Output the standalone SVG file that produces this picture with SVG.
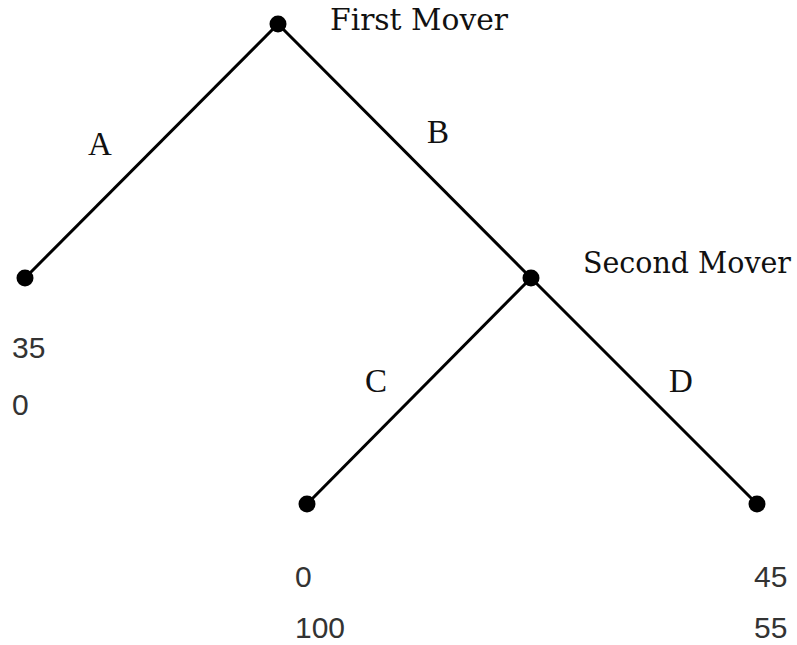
<svg xmlns="http://www.w3.org/2000/svg" width="797" height="645" viewBox="0 0 797 645">
<style>
.edge{stroke:#000;stroke-width:3;fill:none}
.dot{fill:#000}
.lbl{font-family:"Liberation Serif","DejaVu Serif",serif;font-size:33px;fill:#111}
.who{font-family:"DejaVu Serif","Liberation Serif",serif;font-size:29px;fill:#111}
.pay{font-family:"Liberation Sans","Arial",sans-serif;font-size:30px;fill:#333}
</style>
<rect width="797" height="645" fill="#fff"/>
<g id="connectors">
<line class="edge" x1="278" y1="24" x2="25" y2="278"/>
<line class="edge" x1="278" y1="24" x2="531" y2="278"/>
<line class="edge" x1="531" y1="278" x2="307" y2="504"/>
<line class="edge" x1="531" y1="278" x2="757" y2="504"/>
</g>
<g id="first-mover">
<circle class="dot" cx="278" cy="24" r="8.5"/>
<text class="who" x="330" y="30" textLength="178" lengthAdjust="spacingAndGlyphs">First Mover</text>
</g>
<g id="leaf-A">
<circle class="dot" cx="25" cy="278" r="8.5"/>
<text class="pay" x="12" y="358">35</text>
<text class="pay" x="12" y="415">0</text>
</g>
<g id="second-mover">
<circle class="dot" cx="531" cy="278" r="8.5"/>
<text class="who" x="583" y="273" textLength="208" lengthAdjust="spacingAndGlyphs">Second Mover</text>
</g>
<g id="leaf-C">
<circle class="dot" cx="307" cy="504" r="8.5"/>
<text class="pay" x="295" y="587">0</text>
<text class="pay" x="295" y="638">100</text>
</g>
<g id="leaf-D">
<circle class="dot" cx="757" cy="504" r="8.5"/>
<text class="pay" x="754" y="587">45</text>
<text class="pay" x="754" y="638">55</text>
</g>
<g id="edge-labels">
<text class="lbl" x="88" y="155">A</text>
<text class="lbl" x="427" y="143">B</text>
<text class="lbl" x="365" y="392">C</text>
<text class="lbl" x="669" y="392">D</text>
</g>
</svg>
